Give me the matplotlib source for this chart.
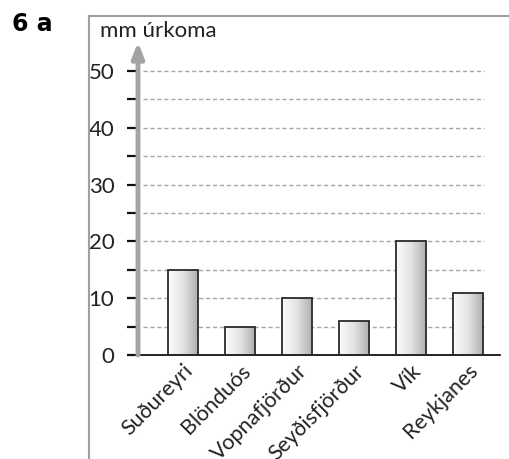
import matplotlib.pyplot as plt
import numpy as np
from matplotlib.lines import Line2D
from matplotlib.colors import LinearSegmentedColormap

# data
stations = ['Suðureyri', 'Blönduós', 'Vopnafjörður', 'Seyðisfjörður', 'Vík', 'Reykjanes']
rain_mm = [15, 5, 10, 6, 20, 11]
major_ticks = [0, 10, 20, 30, 40, 50]
minor_ticks = [5, 15, 25, 35, 45]

plt.rcParams['font.family'] = ['Lato', 'DejaVu Sans']

W, H = 510, 459
fig = plt.figure(figsize=(W / 100, H / 100), dpi=100)

# axes placed in pixel terms
x0, x1 = 138, 500
y0, y1 = 355, 42
ax = fig.add_axes([x0 / W, (H - y0) / H, (x1 - x0) / W, (y0 - y1) / H])

xs = np.arange(len(stations))
xlim = (-45 / 57, 5 + 32 / 57)
ylim = (0, 50 * (y0 - y1) / 284)

# dashed grid
for v in minor_ticks + major_ticks[1:]:
    ax.axhline(v, xmin=(143 - x0) / (x1 - x0), xmax=(484 - x0) / (x1 - x0),
               color='#a8a8a8', lw=1, ls=(0, (3, 2)), zorder=1)

# gradient bars
cmap = LinearSegmentedColormap.from_list('g', ['#fbfbfb', '#e4e4e4', '#b0b0b0'])
grad = np.linspace(0, 1, 64).reshape(1, -1)
bars = ax.bar(xs, rain_mm, width=0.51, facecolor='none', edgecolor='#2a2a2a',
              linewidth=1.3, zorder=3)
for b in bars:
    bx, by, bw, bh = b.get_x(), b.get_y(), b.get_width(), b.get_height()
    im = ax.imshow(grad, cmap=cmap, aspect='auto', extent=(bx, bx + bw, by, by + bh),
                   zorder=2, interpolation='bilinear')
    im.set_clip_path(b)
ax.set_xlim(*xlim)
ax.set_ylim(*ylim)

# spines and ticks
for s in ['left', 'top', 'right']:
    ax.spines[s].set_visible(False)
ax.spines['bottom'].set_color('#111111')
ax.spines['bottom'].set_linewidth(1.3)

ax.set_yticks(major_ticks)
ax.set_yticks(minor_ticks, minor=True)
ax.set_yticklabels([str(v) for v in major_ticks], fontsize=16, color='#222222')
ax.tick_params(axis='y', which='both', length=8, width=1.6, color='#111111', pad=9)
ax.set_xticks(xs)
ax.set_xticklabels(stations, rotation=45, ha='right', rotation_mode='anchor',
                   fontsize=15.5, color='#222222')
ax.tick_params(axis='x', length=0, pad=4)

# grey arrow axis
ax.annotate('', xy=(0, 1), xytext=(0, 0), xycoords='axes fraction',
            arrowprops=dict(arrowstyle='-|>,head_length=0.9,head_width=0.35',
                            color='#a3a3a3', lw=3.5, shrinkA=0, shrinkB=0), zorder=4)

# outer frame
fig.add_artist(Line2D([89 / W, 89 / W], [0, (H - 16) / H], color='#a0a0a0', lw=1.5))
fig.add_artist(Line2D([89 / W, 1], [(H - 16) / H, (H - 16) / H], color='#a0a0a0', lw=1.5))

fig.text(100 / W, (H - 31) / H, 'mm úrkoma', fontsize=16, color='#222222', va='center')
fig.text(12 / W, (H - 24) / H, '6 a', fontsize=17, fontweight='heavy',
         family='DejaVu Sans', va='center')

fig.savefig('out.png', dpi=100)
